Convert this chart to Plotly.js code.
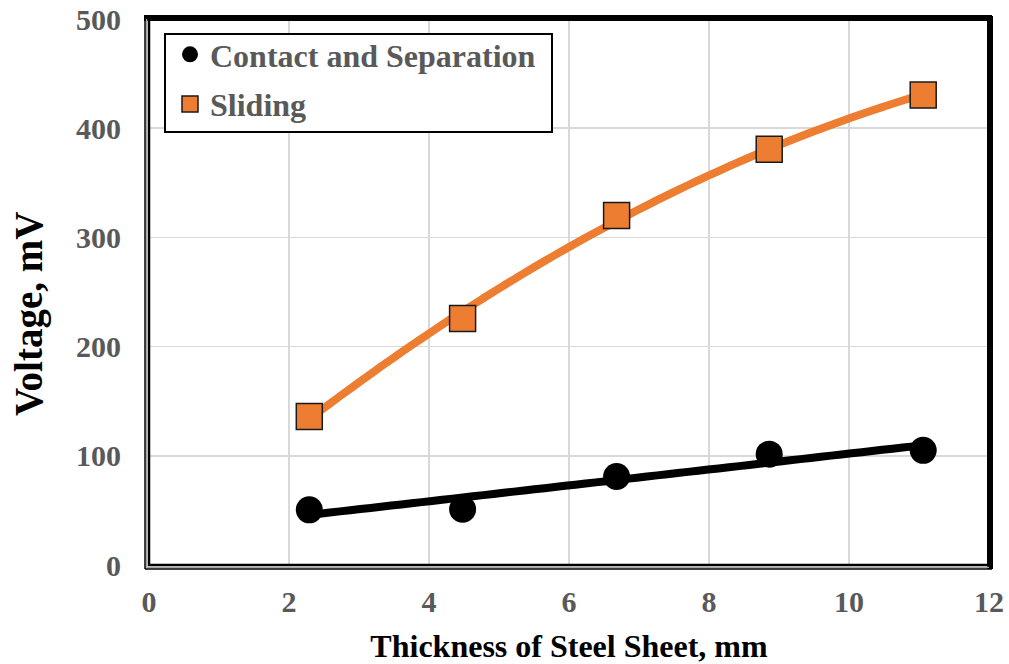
<!DOCTYPE html>
<html>
<head>
<meta charset="utf-8">
<script src="https://cdn.plot.ly/plotly-3.0.1.min.js"></script>
<style>
html,body{margin:0;padding:0;background:#fff;}
#chart{width:1009px;height:664px;}
</style>
</head>
<body>
<div id="chart"></div>
<script>
// Data
const thickness = [2.29, 4.48, 6.68, 8.86, 11.06];           // mm
const contactSeparation = [50.5, 51, 81, 101.5, 105];         // mV
const sliding = [136, 225.7, 320, 380.7, 430.3];               // mV
const seriesNames = ["Contact and Separation", "Sliding"];
const xTicks = [0, 2, 4, 6, 8, 10, 12];
const yTicks = [0, 100, 200, 300, 400, 500];

// Least-squares polynomial fit (trendlines as in the original chart)
function polyfit(xs, ys, deg) {
  const n = deg + 1;
  const A = Array.from({length: n}, () => new Array(n + 1).fill(0));
  for (let i = 0; i < xs.length; i++) {
    for (let r = 0; r < n; r++) {
      for (let c = 0; c < n; c++) A[r][c] += Math.pow(xs[i], r + c);
      A[r][n] += ys[i] * Math.pow(xs[i], r);
    }
  }
  for (let p = 0; p < n; p++) {
    let m = p;
    for (let r = p + 1; r < n; r++) if (Math.abs(A[r][p]) > Math.abs(A[m][p])) m = r;
    [A[p], A[m]] = [A[m], A[p]];
    for (let r = 0; r < n; r++) {
      if (r === p) continue;
      const f = A[r][p] / A[p][p];
      for (let c = p; c <= n; c++) A[r][c] -= f * A[p][c];
    }
  }
  return A.map((row, i) => row[n] / row[i]);
}
function evalFit(coef, xs) {
  return xs.map(x => coef.reduce((s, c, i) => s + c * Math.pow(x, i), 0));
}
const x0 = thickness[0], x1 = thickness[thickness.length - 1];
const fitX = [];
for (let i = 0; i <= 60; i++) fitX.push(x0 + (x1 - x0) * i / 60);
const linCoef = polyfit(thickness, contactSeparation, 1);
const quadCoef = polyfit(thickness, sliding, 2);

const orange = "#ED7D31";
const traces = [
  {x: fitX, y: evalFit(quadCoef, fitX), mode: "lines",
   line: {color: orange, width: 8, simplify: false, shape: "spline", smoothing: 1},
   showlegend: false, hoverinfo: "skip"},
  {x: fitX, y: evalFit(linCoef, fitX), mode: "lines",
   line: {color: "#000000", width: 8, simplify: false},
   showlegend: false, hoverinfo: "skip"},
  {x: thickness, y: contactSeparation, name: seriesNames[0], mode: "markers",
   legendgroup: "a",
   marker: {symbol: "circle", size: 27, color: "#000000", line: {color: "#000000", width: 0}}},
  {x: thickness, y: sliding, name: seriesNames[1], mode: "markers",
   legendgroup: "b",
   marker: {symbol: "square", size: 26, color: orange, line: {color: "#1a1a1a", width: 1.5}}}
];

const font = "'Liberation Serif', 'Times New Roman', serif";
const L = 149, R = 20, T = 19, B = 99;
const W = 1009 - L - R, H = 664 - T - B;
const px = v => v / W, py = v => v / H;
// convert absolute page pixels to paper coordinates
const ax = p => (p - L) / W, ay = p => (T + H - p) / H;

const layout = {
  width: 1009, height: 664,
  margin: {l: L, r: R, t: T, b: B, pad: 0},
  paper_bgcolor: "#ffffff", plot_bgcolor: "#ffffff",
  font: {family: font, color: "#595959"},
  xaxis: {
    range: [0, 12], tickvals: xTicks, ticktext: xTicks.map(String),
    showgrid: true, gridcolor: "#d9d9d9", gridwidth: 1.5, zeroline: false,
    showline: false, ticks: "", ticklabelstandoff: 16,
    tickfont: {family: font, size: 30, color: "#595959", weight: "bold"},
    title: {text: "<b>Thickness of Steel Sheet, mm</b>", standoff: 18,
            font: {family: font, size: 32, color: "#000000"}}
  },
  yaxis: {
    range: [0, 500], tickvals: yTicks, ticktext: yTicks.map(String),
    showgrid: true, gridcolor: "#d9d9d9", gridwidth: 1.5, zeroline: false,
    showline: false, ticks: "", ticklabelstandoff: 27,
    tickfont: {family: font, size: 30, color: "#595959", weight: "bold"},
    title: {text: ""}
  },
  annotations: [
    {text: "<b>Voltage, mV</b>", xref: "paper", yref: "paper",
     x: ax(29), y: ay(314), xanchor: "center", yanchor: "middle", textangle: -90,
     showarrow: false, font: {family: font, size: 39, color: "#000000"}}
  ],
  legend: {
    x: ax(170), y: ay(27), xanchor: "left", yanchor: "top",
    bgcolor: "rgba(0,0,0,0)", bordercolor: "#000000", borderwidth: 0,
    font: {family: font, size: 32, color: "#595959", weight: "bold"},
    tracegroupgap: 5, itemsizing: "trace"
  },
  shapes: [
    // legend box
    {type: "rect", xref: "paper", yref: "paper", x0: ax(165), x1: ax(552), y0: ay(132), y1: ay(34),
     fillcolor: "#ffffff", line: {color: "#000000", width: 2}, layer: "above"},
    // inner frame
    {type: "rect", xref: "paper", yref: "paper", x0: 0, x1: 1, y0: 0, y1: 1,
     line: {color: "#000000", width: 2.5}, layer: "above"},
    // thick top and right edges
    {type: "line", xref: "paper", yref: "paper", x0: px(-5), x1: 1 + px(3), y0: 1 + py(1), y1: 1 + py(1),
     line: {color: "#000000", width: 6}, layer: "above"},
    {type: "line", xref: "paper", yref: "paper", x0: 1 + px(1), x1: 1 + px(1), y0: py(-4), y1: 1 + py(3),
     line: {color: "#000000", width: 6}, layer: "above"},
    // double lines on left and bottom
    {type: "line", xref: "paper", yref: "paper", x0: px(-2.5), x1: px(-2.5), y0: py(-2.5), y1: 1,
     line: {color: "#a6a6a6", width: 1.5}, layer: "above"},
    {type: "line", xref: "paper", yref: "paper", x0: px(-2.5), x1: 1, y0: py(-2.5), y1: py(-2.5),
     line: {color: "#a6a6a6", width: 1.5}, layer: "above"},
    {type: "line", xref: "paper", yref: "paper", x0: px(-4), x1: px(-4), y0: py(-4), y1: 1 + py(3),
     line: {color: "#000000", width: 1.5}, layer: "above"},
    {type: "line", xref: "paper", yref: "paper", x0: px(-4), x1: 1 + px(3), y0: py(-4), y1: py(-4),
     line: {color: "#000000", width: 1.5}, layer: "above"}
  ],
  showlegend: true
};

Plotly.newPlot("chart", traces, layout, {displayModeBar: false, staticPlot: true});
</script>
</body>
</html>
